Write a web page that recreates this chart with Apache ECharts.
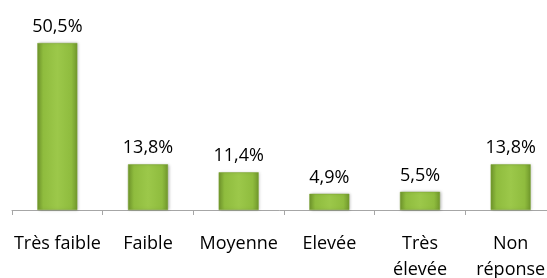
<!DOCTYPE html>
<html>
<head>
<meta charset="utf-8">
<script src="https://cdn.jsdelivr.net/npm/echarts@6/dist/echarts.min.js"></script>
<style>
  html, body { margin: 0; padding: 0; background: #fff; }
  #main { width: 547px; height: 278px; }
</style>
</head>
<body>
<div id="main"></div>
<script>
// categories and values (percent)
var categories = ['Très faible', 'Faible', 'Moyenne', 'Elevée', 'Très\nélevée', 'Non\nréponse'];
var values = [50.5, 13.8, 11.4, 4.9, 5.5, 13.8];

var chart = echarts.init(document.getElementById('main'));

// bar fill: darker edges, lighter middle
var barFill = new echarts.graphic.LinearGradient(0, 0, 1, 0, [
  { offset: 0, color: '#71982c' },
  { offset: 0.15, color: '#8fbc3e' },
  { offset: 0.5, color: '#9cc84a' },
  { offset: 0.85, color: '#8fbc3e' },
  { offset: 1, color: '#71982c' }
]);

var option = {
  animation: false,
  grid: {
    left: 12,
    top: 11.6,
    width: 544,
    bottom: 68,
    containLabel: false,
    outerBoundsMode: 'none'
  },
  xAxis: {
    type: 'category',
    data: categories,
    axisLine: { lineStyle: { color: '#a6a6a6', width: 1 } },
    axisTick: { show: true, length: 5, lineStyle: { color: '#a6a6a6' } },
    axisLabel: {
      color: '#000',
      fontFamily: 'Open Sans',
      fontSize: 18,
      margin: 21,
      lineHeight: 26,
      interval: 0
    }
  },
  yAxis: {
    type: 'value',
    min: 0,
    max: 60,
    show: false,
    splitLine: { show: false }
  },
  series: [{
    type: 'bar',
    data: values,
    barWidth: 40,
    itemStyle: {
      color: barFill,
      borderColor: '#7aa332',
      borderWidth: 0.5,
      shadowColor: 'rgba(0,0,0,0.25)',
      shadowBlur: 3,
      shadowOffsetX: 1,
      shadowOffsetY: 0
    },
    label: {
      show: true,
      position: 'top',
      distance: 7,
      color: '#000',
      fontFamily: 'Open Sans',
      fontSize: 18,
      formatter: function (p) {
        return p.value.toFixed(1).replace('.', ',') + '%';
      }
    }
  }]
};

chart.setOption(option);
</script>
</body>
</html>
